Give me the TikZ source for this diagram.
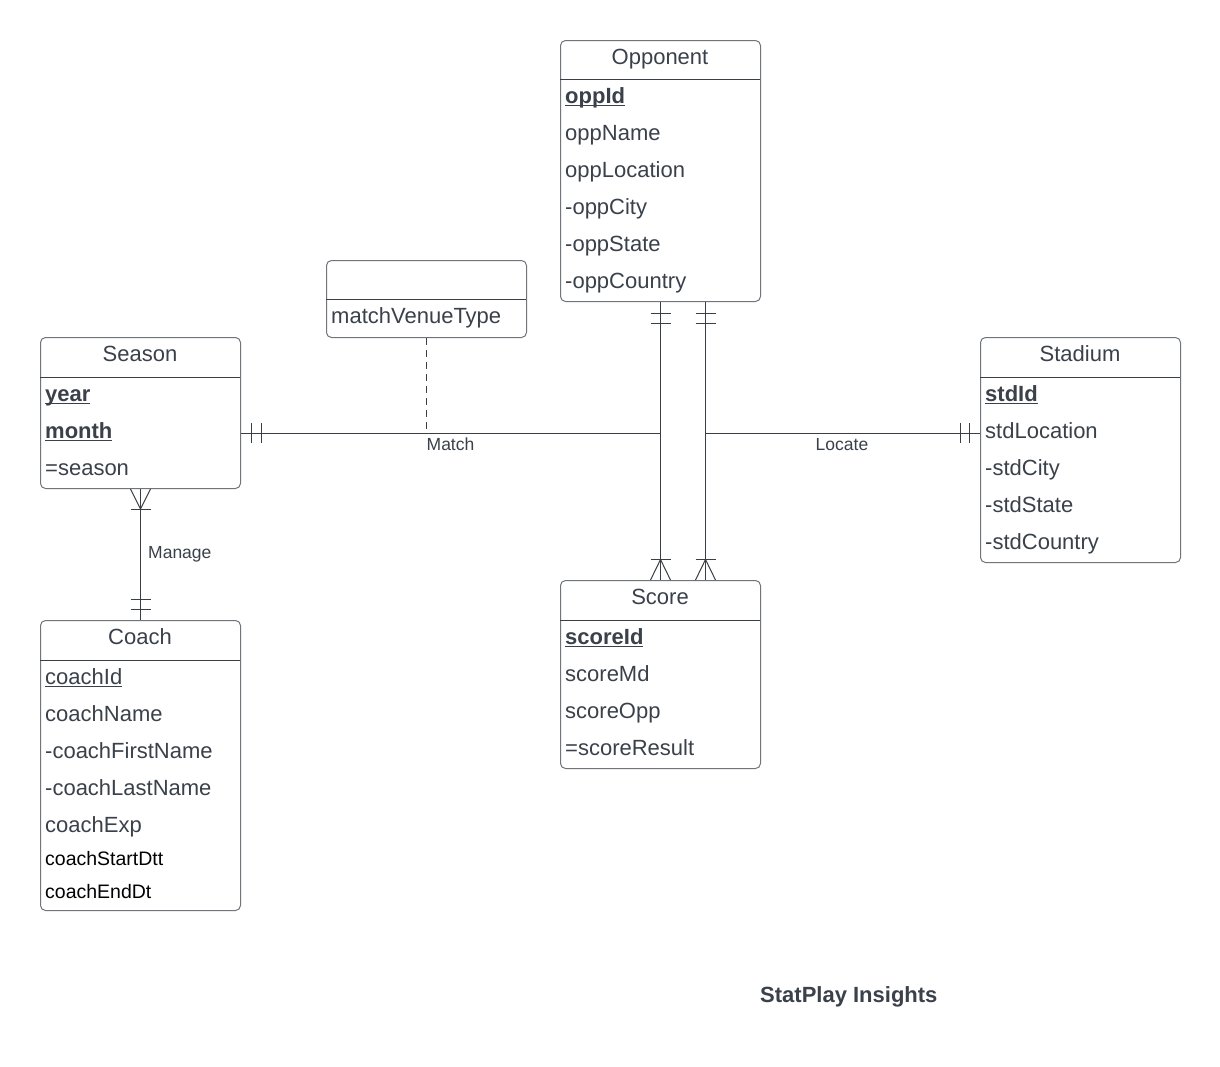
\documentclass[tikz,border=0pt]{standalone}
\usepackage{fontspec}
\setmainfont{Liberation Sans}
\usetikzlibrary{calc}
\definecolor{txt}{RGB}{58,65,74}
\definecolor{bord}{RGB}{112,117,124}
\definecolor{ln}{RGB}{58,63,70}
\newcommand\myul[2][1.5pt]{\setbox0\hbox{#2}\rlap{\rule[-3.1pt]{\wd0}{#1}}\box0}
\tikzset{
 ebox/.style={draw=bord, line width=1pt, rounded corners=5pt, anchor=north west, minimum width=200pt, inner sep=0pt},
 hline/.style={draw=ln, line width=1pt},
 fld/.style={anchor=base west, inner sep=0pt, text=txt, font=\fontsize{22}{26}\selectfont},
 sfld/.style={anchor=base west, inner sep=0pt, text=black, font=\fontsize{19.5}{23}\selectfont},
 ttl/.style={anchor=base, inner sep=0pt, text=txt, font=\fontsize{22}{26}\selectfont},
 conn/.style={draw=ln, line width=1pt},
 rlabel/.style={anchor=base, inner sep=0pt, text=txt, font=\fontsize{17.5}{20}\selectfont},
 brand/.style={anchor=base west, inner sep=0pt, text=txt, font=\fontsize{22}{26}\selectfont\bfseries},
}
\begin{document}
\begin{tikzpicture}[x=1pt,y=-1pt]
\useasboundingbox[fill=white] (0,0) rectangle (1220,1066);

% ---------- Opponent ----------
\node[ebox, minimum height=261pt] (opp) at (560,40) {};
\draw[hline] (560,79) -- (760,79);
\node[ttl] (oppT) at (660,64.5) {Opponent};
\node[fld] (opp1) at (565,103) {\myul{\textbf{oppId}}};
\node[fld] (opp2) at (565,140) {oppName};
\node[fld] (opp3) at (565,177) {oppLocation};
\node[fld] (opp4) at (565,214) {-oppCity};
\node[fld] (opp5) at (565,251) {-oppState};
\node[fld] (opp6) at (565,288) {-oppCountry};

% ---------- matchVenueType ----------
\node[ebox, minimum height=77pt] (mvt) at (326,260) {};
\draw[hline] (326,299) -- (526,299);
\node[fld] (mvt1) at (331,323) {matchVenueType};

% ---------- Season ----------
\node[ebox, minimum height=151pt] (season) at (40,337) {};
\draw[hline] (40,377) -- (240,377);
\node[ttl] (seasonT) at (140,361.5) {Season};
\node[fld] (sea1) at (45,401) {\myul{\textbf{year}}};
\node[fld] (sea2) at (45,438) {\myul{\textbf{month}}};
\node[fld] (sea3) at (45,475) {=season};

% ---------- Stadium ----------
\node[ebox, minimum height=225pt] (stadium) at (980,337) {};
\draw[hline] (980,377) -- (1180,377);
\node[ttl] (stdT) at (1080,361.5) {Stadium};
\node[fld] (std1) at (985,401) {\myul{\textbf{stdId}}};
\node[fld] (std2) at (985,438) {stdLocation};
\node[fld] (std3) at (985,475) {-stdCity};
\node[fld] (std4) at (985,512) {-stdState};
\node[fld] (std5) at (985,549) {-stdCountry};

% ---------- Coach ----------
\node[ebox, minimum height=290pt] (coach) at (40,620) {};
\draw[hline] (40,660) -- (240,660);
\node[ttl] (coachT) at (140,644.5) {Coach};
\node[fld] (co1) at (45,684) {\myul[1.2pt]{coachId}};
\node[fld] (co2) at (45,721) {coachName};
\node[fld] (co3) at (45,758) {-coachFirstName};
\node[fld] (co4) at (45,795) {-coachLastName};
\node[fld] (co5) at (45,832) {coachExp};
\node[sfld] (co6) at (45,865.5) {coachStartDtt};
\node[sfld] (co7) at (45,898.5) {coachEndDt};

% ---------- Score ----------
\node[ebox, minimum height=188pt] (score) at (560,580) {};
\draw[hline] (560,620) -- (760,620);
\node[ttl] (scoreT) at (660,604.5) {Score};
\node[fld] (sc1) at (565,644) {\myul{\textbf{scoreId}}};
\node[fld] (sc2) at (565,681) {scoreMd};
\node[fld] (sc3) at (565,718) {scoreOpp};
\node[fld] (sc4) at (565,755) {=scoreResult};

% ---------- connectors ----------
\coordinate (jm) at (660,433);
\coordinate (jl) at (705,433);

% Opponent -- Score (two)
\draw[conn] (opp.south) -- (score.north);
\draw[conn] ([xshift=45pt]opp.south) -- ([xshift=45pt]score.north);
% one-mandatory ticks at Opponent
\foreach \dx in {0,45} {
  \draw[conn] ($(opp.south)+(\dx-10,11.7)$) -- ++(20,0);
  \draw[conn] ($(opp.south)+(\dx-10,21.3)$) -- ++(20,0);
  % crow's foot at Score
  \draw[conn] ($(score.north)+(\dx-10,-20.5)$) -- ++(20,0);
  \draw[conn] ($(score.north)+(\dx-10,0)$) -- ($(score.north)+(\dx,-20.5)$) -- ($(score.north)+(\dx+10,0)$);
}

% Season -- Match junction
\draw[conn] (season.east |- jm) -- (jm);
\draw[conn] ($(season.east |- jm)+(10,-10)$) -- ++(0,20);
\draw[conn] ($(season.east |- jm)+(20.5,-10)$) -- ++(0,20);
\node[rlabel] (lmatch) at (450.5,450.5) {Match};

% matchVenueType dashed
\draw[conn, dash pattern=on 7pt off 5pt] (mvt.south) -- (mvt.south |- jm);

% Stadium -- Locate junction
\draw[conn] (stadium.west |- jl) -- (jl);
\draw[conn] ($(stadium.west |- jl)+(-11,-10)$) -- ++(0,20);
\draw[conn] ($(stadium.west |- jl)+(-20,-10)$) -- ++(0,20);
\node[rlabel] (llocate) at (842,450.5) {Locate};

% Season -- Coach (Manage)
\draw[conn] (season.south) -- (coach.north);
\draw[conn] ($(season.south)+(-10,20)$) -- ++(20,0);
\draw[conn] ($(season.south)+(-10,0)$) -- ($(season.south)+(0,20)$) -- ($(season.south)+(10,0)$);
\draw[conn] ($(coach.north)+(-10,-21)$) -- ++(20,0);
\draw[conn] ($(coach.north)+(-10,-11)$) -- ++(20,0);
\node[rlabel, anchor=base west] (lmanage) at (148,558) {Manage};

% brand
\node[brand] (brandT) at (760,1002) {StatPlay Insights};
\end{tikzpicture}
\end{document}
